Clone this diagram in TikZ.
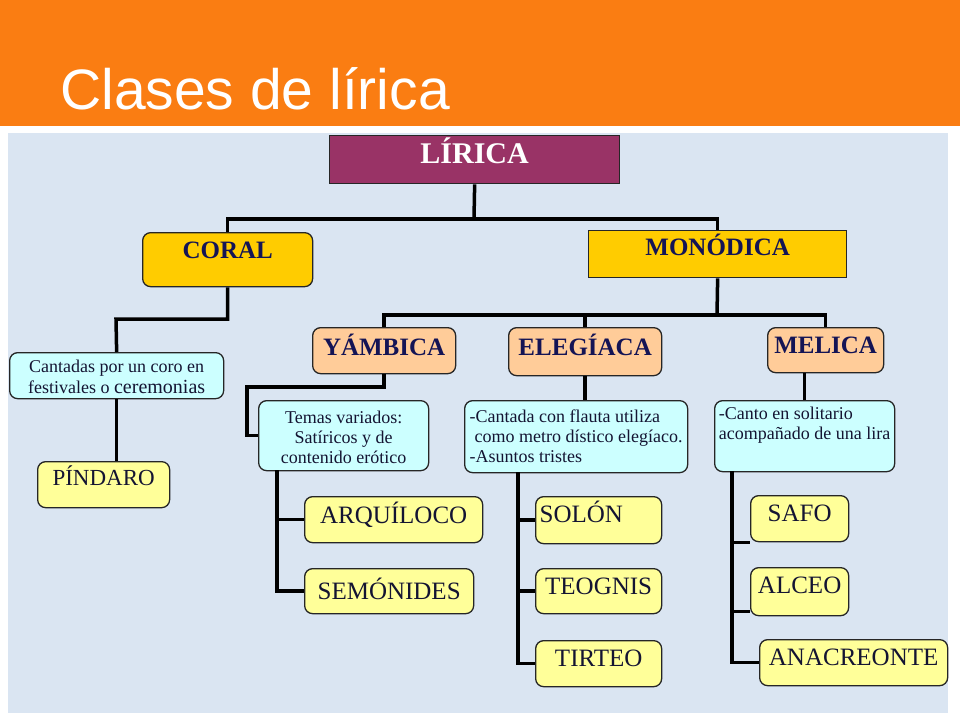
\documentclass[tikz,border=0pt]{standalone}
\usepackage{fontspec}
\setmainfont{Liberation Serif}
\newfontfamily\titlefont{Liberation Sans}
\definecolor{orangeh}{RGB}{250,125,18}
\definecolor{panel}{RGB}{218,229,242}
\definecolor{liricac}{RGB}{153,51,102}
\definecolor{goldc}{RGB}{255,204,0}
\definecolor{peachc}{RGB}{255,204,153}
\definecolor{lyellow}{RGB}{255,255,153}
\definecolor{lcyan}{RGB}{204,255,255}
\definecolor{navyc}{RGB}{20,20,85}
\definecolor{inkc}{RGB}{20,20,50}
\tikzset{
  sqbox/.style={draw=black!85, line width=1.3pt, inner sep=0pt, anchor=north west},
  rbox/.style={sqbox, rounded corners=8pt},
  hd/.style={font=\bfseries\fontsize{25}{30}\selectfont, text=navyc},
  nm/.style={font=\fontsize{25}{30}\selectfont, text=inkc},
  bd/.style={font=\fontsize{18}{20}\selectfont, text=inkc},
  conn/.style={line width=3.5pt, black, line join=miter},
}
\begin{document}
\begin{tikzpicture}[x=1pt,y=-1pt]
\useasboundingbox (0,0) rectangle (960,720);
\fill[white] (0,0) rectangle (960,720);
\fill[orangeh] (0,0) rectangle (960,126);
\node[anchor=base west, inner sep=0pt, text=white, font=\titlefont\fontsize{57}{60}\selectfont] (title) at (60,109) {Clases de lírica};
\fill[panel] (8,133) rectangle (948,713);

% level 0
\node[sqbox, fill=liricac, text=white, font=\bfseries\fontsize{30}{34}\selectfont, minimum width=290pt, text height=28pt, text depth=20pt] (lirica) at (329,135) {LÍRICA};
% level 1
\node[rbox, hd, fill=goldc, minimum width=170pt, text height=26pt, text depth=28pt] (coral) at (142,232) {CORAL};
\node[sqbox, hd, fill=goldc, minimum width=258pt, text height=25pt, text depth=22pt] (monodica) at (588,230) {MONÓDICA};
% level 2
\node[rbox, hd, fill=peachc, minimum width=143pt, text height=28pt, text depth=18pt] (yambica) at (312,327) {YÁMBICA};
\node[rbox, hd, fill=peachc, minimum width=153pt, text height=28pt, text depth=20pt] (elegiaca) at (508,327) {ELEGÍACA};
\node[rbox, hd, fill=peachc, minimum width=116pt, text height=26pt, text depth=19pt] (melica) at (767,327) {MELICA};
% description boxes
\node[rbox, bd, font=\fontsize{18}{21}\selectfont, fill=lcyan, minimum width=214pt, minimum height=46pt, align=center] (cantadas) at (9,352) {\rule{0pt}{15pt}Cantadas por un coro en\\festivales o {\fontsize{20}{20}\selectfont ceremonias}};
\node[rbox, bd, fill=lcyan, minimum width=170pt, minimum height=70pt, align=center] (temas) at (258,400) {\rule{0pt}{16pt}Temas variados:\\Satíricos y de\\contenido erótico};
\node[rbox, bd, fill=lcyan, minimum width=223pt, minimum height=72pt, align=left] (elegtext) at (464,400) {-Cantada con flauta utiliza\\\hspace*{5pt}como metro dístico elegíaco.\\-Asuntos tristes};
\node[rbox, bd, fill=lcyan, minimum width=180pt, minimum height=71pt, align=left] (meltext) at (714,400) {-Canto en solitario\\acompañado de una lira\\\strut};
% authors
\node[rbox, nm, fill=lyellow, font=\fontsize{23}{28}\selectfont, minimum width=132pt, text height=24pt, text depth=22pt] (pindaro) at (37,461) {PÍNDARO};
\node[rbox, nm, fill=lyellow, minimum width=178pt, text height=27pt, text depth=19pt] (arquiloco) at (304,496) {ARQUÍLOCO};
\node[rbox, nm, fill=lyellow, minimum width=169pt, text height=31pt, text depth=14pt] (semonides) at (304,568) {SEMÓNIDES};
\node[rbox, nm, fill=lyellow, inner xsep=4pt, text width=118pt, align=left, text height=26pt, text depth=21pt] (solon) at (535,496) {SOLÓN};
\node[rbox, nm, fill=lyellow, minimum width=126pt, text height=26pt, text depth=19pt] (teognis) at (535,568) {TEOGNIS};
\node[rbox, nm, fill=lyellow, minimum width=126pt, text height=26pt, text depth=20pt] (tirteo) at (535,640) {TIRTEO};
\node[rbox, nm, fill=lyellow, minimum width=98pt, text height=26pt, text depth=20pt] (safo) at (750,495) {SAFO};
\node[rbox, nm, fill=lyellow, minimum width=98pt, text height=26pt, text depth=22pt] (alceo) at (750,567) {ALCEO};
\node[rbox, nm, fill=lyellow, minimum width=188pt, text height=26pt, text depth=20pt] (anacreonte) at (759,639) {ANACREONTE};

% junctions
\coordinate (j1) at (474,219);
\coordinate (j2) at (116,319);
\coordinate (j3) at (717,315);
\coordinate (j4) at (247,387);
\coordinate (yt) at (277,470);
\coordinate (et) at (518,472);
\coordinate (mt) at (732,471);

% connectors
\draw[conn] (lirica.south) -- (j1);
\draw[conn] (coral.north) |- (j1) -| (monodica.north);
\draw[conn] (coral.south) |- (j2) -- (cantadas.north);
\draw[conn] (cantadas.south) -- (cantadas.south |- pindaro.north);
\draw[conn] (monodica.south) -- (j3);
\draw[conn] (yambica.north) |- (j3) -| (melica.north);
\draw[conn] (elegiaca.north) -- (elegiaca.north |- j3);
\draw[conn] (yambica.south) |- (j4) |- (temas.west);
\draw[conn] (elegiaca.south) -- (elegiaca.south |- elegtext.north);
\draw[conn] (meltext.north |- melica.south) -- (meltext.north);
\draw[conn] (yt) |- (semonides.west);
\draw[conn] (yt |- arquiloco.west) -- (arquiloco.west);
\draw[conn] (et) |- (tirteo.west);
\draw[conn] (et |- solon.west) -- (solon.west);
\draw[conn] (et |- teognis.west) -- (teognis.west);
\draw[conn] (mt) |- (anacreonte.west);
\draw[conn] (mt |- safo.south west) -- (safo.south west);
\draw[conn] (mt |- alceo.south west) ++(0,-5) -- ([yshift=5pt]alceo.south west);
\end{tikzpicture}
\end{document}
